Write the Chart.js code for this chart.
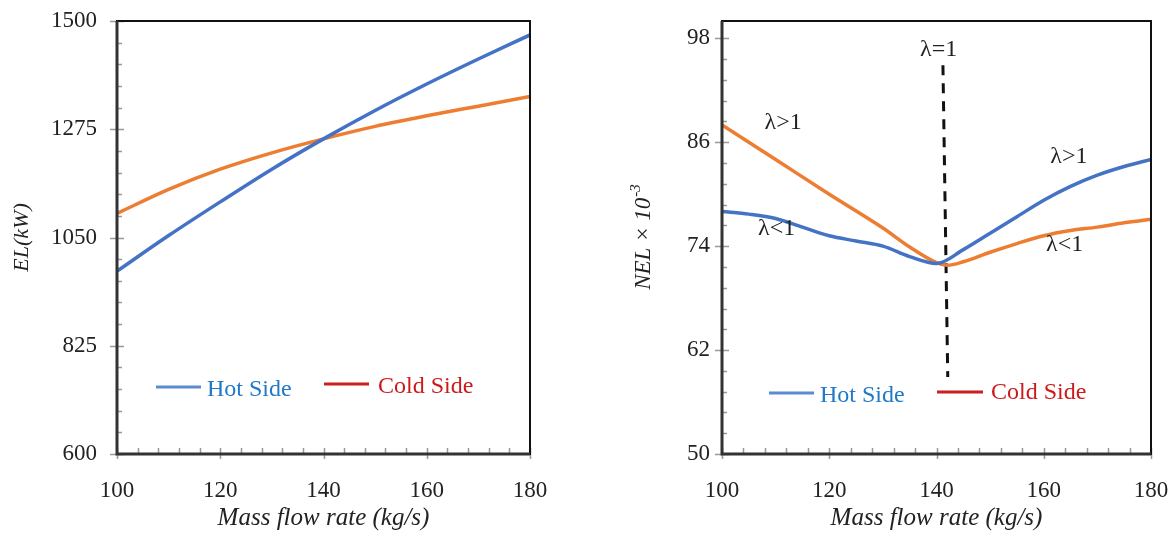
<!DOCTYPE html>
<html>
<head>
<title>EL and NEL vs mass flow rate</title>
<style>
  body { margin: 0; background: #fff; }
  #left { position: absolute; left: 0; top: 0; }
  #right { position: absolute; left: 590px; top: 0; }
</style>
</head>
<body>
<canvas id="left" width="580" height="533"></canvas>
<canvas id="right" width="586" height="533"></canvas>
<script src="https://cdn.jsdelivr.net/npm/chart.js@4.4.1/dist/chart.umd.min.js"></script>
<script>
// left panel: exergy loss (kW)
const massEL = [100, 110, 120, 130, 140, 150, 160, 170, 180];
const hotEL  = [980, 1054, 1124, 1192, 1255, 1314, 1369, 1421, 1471];
const coldEL = [1100, 1150, 1192, 1226, 1255, 1281, 1303, 1323, 1343];

// right panel: NEL x 10^-3
const massHot = [100, 105, 110, 115, 120, 125, 130, 135, 140, 145, 150, 155, 160, 165, 170, 175, 180];
const hotNEL  = [78.0, 77.7, 77.2, 76.2, 75.2, 74.6, 74.0, 72.8, 72.0, 73.6, 75.5, 77.4, 79.3, 80.9, 82.2, 83.2, 84.0];
const massCold = [100, 110, 120, 130, 135, 140, 142, 145, 150, 155, 160, 165, 170, 175, 180];
const coldNEL  = [88.0, 84.0, 80.0, 76.1, 73.9, 72.1, 71.8, 72.2, 73.3, 74.3, 75.2, 75.8, 76.2, 76.7, 77.1];

// lambda = 1 marker
const lambdaX = [141.2, 142.1];
const lambdaY = [94.9, 58.9];

const yTicksNEL = [50, 62, 74, 86, 98];
const seriesNames = ['Hot Side', 'Cold Side'];

const SERIF = "'Liberation Serif', 'Times New Roman', serif";
const BLUE = '#4472C4';
const ORANGE = '#ED7D31';

const pts = (xs, ys) => xs.map((x, i) => ({ x: x, y: ys[i] }));

// box, crossing major ticks, inner minor ticks
const framePlugin = {
    id: 'frame',
    afterDraw(chart, args, o) {
        const { ctx, chartArea: a } = chart;
        const xs = chart.scales.x, ys = chart.scales.y;
        ctx.save();
        ctx.strokeStyle = '#999';
        ctx.lineWidth = 1.5;
        ctx.beginPath();
        for (let i = 0; ; i++) {
            const v = ys.min + i * o.yMinor;
            if (v > ys.max + 1e-9) break;
            const py = Math.round(ys.getPixelForValue(v)) + 0.5;
            ctx.moveTo(a.left, py); ctx.lineTo(a.left + 5, py);
        }
        for (let i = 0; ; i++) {
            const v = xs.min + i * o.xMinor;
            if (v > xs.max + 1e-9) break;
            const px = Math.round(xs.getPixelForValue(v)) + 0.5;
            ctx.moveTo(px, a.bottom); ctx.lineTo(px, a.bottom - 6);
        }
        ys.ticks.forEach(t => {
            const py = Math.round(ys.getPixelForValue(t.value)) + 0.5;
            ctx.moveTo(a.left - 7, py); ctx.lineTo(a.left + 7, py);
        });
        xs.ticks.forEach(t => {
            const px = Math.round(xs.getPixelForValue(t.value)) + 0.5;
            ctx.moveTo(px, a.bottom - 5); ctx.lineTo(px, a.bottom + 5);
        });
        ctx.stroke();
        ctx.strokeStyle = '#111';
        ctx.lineWidth = 2;
        ctx.strokeRect(a.left, a.top, a.right - a.left, a.bottom - a.top);
        ctx.strokeStyle = '#333';
        ctx.lineWidth = 3;
        ctx.beginPath();
        ctx.moveTo(a.left, a.top); ctx.lineTo(a.left, a.bottom); ctx.lineTo(a.right, a.bottom);
        ctx.stroke();
        ctx.restore();
    }
};

// in-plot legend, lambda labels, superscript y title
const notesPlugin = {
    id: 'notes',
    afterDraw(chart, args, o) {
        const { ctx, chartArea: a } = chart;
        const xs = chart.scales.x, ys = chart.scales.y;
        ctx.save();
        (o.labels || []).forEach(l => {
            ctx.font = '24px ' + SERIF;
            ctx.fillStyle = '#222';
            ctx.textAlign = 'center';
            ctx.textBaseline = 'middle';
            ctx.fillText(l.text, xs.getPixelForValue(l.x), ys.getPixelForValue(l.y));
        });
        (o.legend || []).forEach(g => {
            ctx.strokeStyle = g.line;
            ctx.lineWidth = 3;
            ctx.beginPath();
            ctx.moveTo(a.left + g.x1, a.bottom - g.ly);
            ctx.lineTo(a.left + g.x2, a.bottom - g.ly);
            ctx.stroke();
            ctx.font = '24px ' + SERIF;
            ctx.fillStyle = g.color;
            ctx.textAlign = 'left';
            ctx.textBaseline = 'alphabetic';
            ctx.fillText(g.text, a.left + g.tx, a.bottom - g.ty);
        });
        if (o.yTitle) {
            const t = o.yTitle;
            ctx.translate(t.x, (a.top + a.bottom) / 2);
            ctx.rotate(-Math.PI / 2);
            ctx.fillStyle = '#222';
            ctx.textBaseline = 'alphabetic';
            ctx.font = 'italic 23px ' + SERIF;
            const w1 = ctx.measureText(t.main).width;
            ctx.font = 'italic 15px ' + SERIF;
            const w2 = ctx.measureText(t.sup).width;
            const s = -(w1 + w2) / 2;
            ctx.font = 'italic 23px ' + SERIF;
            ctx.textAlign = 'left';
            ctx.fillText(t.main, s, 8);
            ctx.font = 'italic 15px ' + SERIF;
            ctx.fillText(t.sup, s + w1 + 1, -2);
        }
        ctx.restore();
    }
};

const tickFont = { family: SERIF, size: 23 };
const plain = v => String(v);

function xAxis() {
    return {
        type: 'linear', min: 100, max: 180,
        ticks: { stepSize: 20, autoSkip: false, padding: 23, color: '#222', font: tickFont, callback: plain },
        grid: { display: false, drawTicks: false },
        border: { display: false },
        title: { display: true, text: 'Mass flow rate (kg/s)', color: '#222',
                 font: { family: SERIF, size: 25, style: 'italic' }, padding: { top: 0, bottom: 0 } },
        afterFit: s => { s.height = 79; s.paddingLeft = 0; s.paddingRight = 0; }
    };
}

function lineSet(label, data, color) {
    return { label: label, data: data, borderColor: color, borderWidth: 3.5,
             pointRadius: 0, cubicInterpolationMode: 'monotone', fill: false };
}

new Chart(document.getElementById('left'), {
    type: 'line',
    data: {
        datasets: [
            lineSet(seriesNames[0], pts(massEL, hotEL), BLUE),
            lineSet(seriesNames[1], pts(massEL, coldEL), ORANGE)
        ]
    },
    options: {
        responsive: false,
        animation: false,
        layout: { padding: { top: 21, right: 50, left: 0, bottom: 0 } },
        plugins: {
            legend: { display: false },
            tooltip: { enabled: false },
            frame: { xMinor: 4, yMinor: 45 },
            notes: {
                legend: [
                    { text: seriesNames[0], line: '#5b8bd0', color: '#1f78c8', x1: 39, x2: 84, ly: 67, tx: 90, ty: 58 },
                    { text: seriesNames[1], line: '#cc1f1f', color: '#cc1a1a', x1: 207, x2: 252, ly: 70, tx: 261, ty: 61 }
                ]
            }
        },
        scales: {
            x: xAxis(),
            y: {
                min: 600, max: 1500,
                ticks: { stepSize: 225, padding: 20, color: '#222', font: tickFont, callback: plain },
                grid: { display: false, drawTicks: false },
                border: { display: false },
                title: { display: true, text: 'EL(kW)', color: '#222',
                         font: { family: SERIF, size: 22, style: 'italic' }, padding: { top: 9, bottom: 0 } },
                afterFit: s => { s.width = 117; s.paddingTop = 0; s.paddingBottom = 0; }
            }
        }
    },
    plugins: [framePlugin, notesPlugin]
});

new Chart(document.getElementById('right'), {
    type: 'line',
    data: {
        datasets: [
            lineSet(seriesNames[0], pts(massHot, hotNEL), BLUE),
            lineSet(seriesNames[1], pts(massCold, coldNEL), ORANGE),
            { label: 'lambda', data: pts(lambdaX, lambdaY), borderColor: '#111', borderWidth: 3,
              borderDash: [10, 8], pointRadius: 0, fill: false }
        ]
    },
    options: {
        responsive: false,
        animation: false,
        layout: { padding: { top: 21, right: 25, left: 0, bottom: 0 } },
        plugins: {
            legend: { display: false },
            tooltip: { enabled: false },
            frame: { xMinor: 4, yMinor: 2.4 },
            notes: {
                labels: [
                    { text: 'λ=1', x: 140.4, y: 96.7 },
                    { text: 'λ>1', x: 111.4, y: 88.2 },
                    { text: 'λ<1', x: 110.2, y: 76.0 },
                    { text: 'λ>1', x: 164.7, y: 84.3 },
                    { text: 'λ<1', x: 163.9, y: 74.2 }
                ],
                legend: [
                    { text: seriesNames[0], line: '#5b8bd0', color: '#1f78c8', x1: 47, x2: 92, ly: 61, tx: 98, ty: 52 },
                    { text: seriesNames[1], line: '#cc1f1f', color: '#cc1a1a', x1: 215, x2: 261, ly: 62, tx: 269, ty: 55 }
                ],
                yTitle: { main: 'NEL × 10', sup: '-3', x: 52 }
            }
        },
        scales: {
            x: xAxis(),
            y: {
                min: 50, max: 100,
                afterBuildTicks: s => { s.ticks = yTicksNEL.map(v => ({ value: v })); },
                ticks: { padding: 12, color: '#222', font: tickFont, callback: plain },
                grid: { display: false, drawTicks: false },
                border: { display: false },
                afterFit: s => { s.width = 132; s.paddingTop = 0; s.paddingBottom = 0; }
            }
        }
    },
    plugins: [framePlugin, notesPlugin]
});
</script>
</body>
</html>
